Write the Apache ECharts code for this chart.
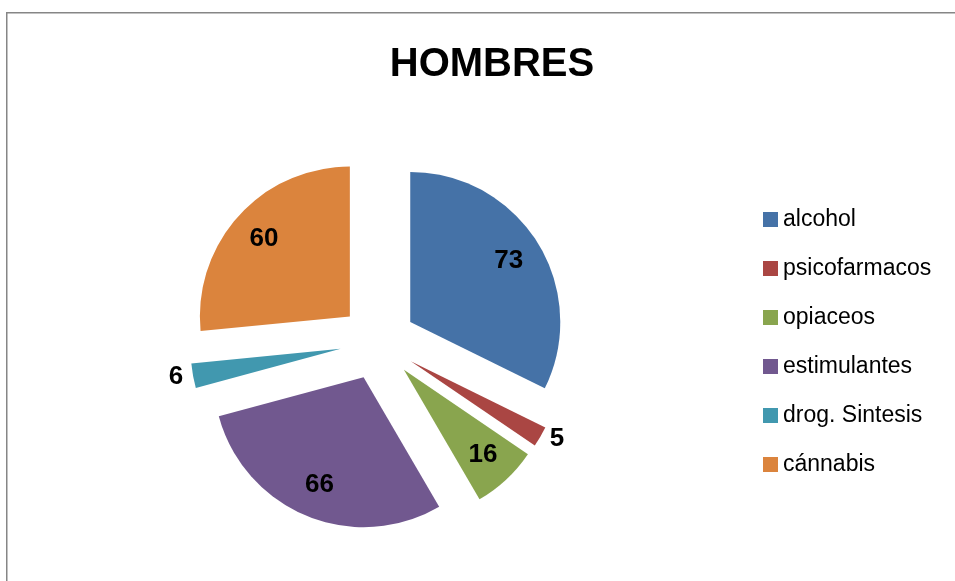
<!DOCTYPE html>
<html>
<head>
<meta charset="utf-8">
<script src="https://cdn.jsdelivr.net/npm/echarts@6/dist/echarts.min.js"></script>
<style>
  html, body { margin: 0; padding: 0; background: #fff; }
  #chart { width: 955px; height: 581px; }
</style>
</head>
<body>
<div id="chart"></div>
<script>
// 数据
var categories = ['alcohol', 'psicofarmacos', 'opiaceos', 'estimulantes', 'drog. Sintesis', 'cánnabis']
var values = [73, 5, 16, 66, 6, 60]
var colors = ['#4572A7', '#AA4643', '#89A54E', '#71588F', '#4198AF', '#DB843D']
// 小扇区标签放在外面
var outsideLabel = [false, true, false, false, true, false]

function hombresChart () {
  var myChart = echarts.init(document.getElementById('chart'))
  var labelFont = {
    formatter: '{c}',
    color: '#000',
    fontSize: 26,
    fontWeight: 'bold',
    fontFamily: 'Liberation Sans'
  }
  var mainData = categories.map(function (name, i) {
    return {
      name: name,
      value: values[i],
      selected: true,
      itemStyle: { color: colors[i] },
      label: Object.assign({ show: outsideLabel[i], position: 'outside', distanceToLabelLine: 5 }, labelFont),
      labelLine: { show: false, length: 5, length2: 0 }
    }
  })
  // 内部标签用透明的大饼图，标签落在 0.75 半径处
  var labelData = categories.map(function (name, i) {
    return {
      name: name,
      value: values[i],
      selected: true,
      itemStyle: { color: 'rgba(0,0,0,0)' },
      label: Object.assign({ show: !outsideLabel[i], position: 'inside' }, labelFont)
    }
  })
  var option = {
    animation: false,
    title: {
      text: 'HOMBRES',
      left: 487,
      top: 40,
      textAlign: 'center',
      textStyle: {
        color: '#000',
        fontSize: 40,
        fontWeight: 'bold',
        fontFamily: 'Liberation Sans'
      }
    },
    legend: {
      orient: 'vertical',
      left: 763,
      top: 208,
      padding: 0,
      itemWidth: 15,
      itemHeight: 15,
      itemGap: 26,
      icon: 'rect',
      selectedMode: false,
      data: categories,
      textStyle: {
        color: '#000',
        fontSize: 23,
        lineHeight: 22,
        fontFamily: 'Liberation Sans'
      }
    },
    graphic: [
      {
        type: 'rect',
        shape: { x: 6.75, y: 12.75, width: 1200, height: 1200 },
        style: { fill: 'none', stroke: '#868686', lineWidth: 1.5 },
        silent: true
      }
    ],
    series: [
      {
        name: 'HOMBRES',
        type: 'pie',
        center: [378, 342],
        radius: [0, 150],
        startAngle: 90,
        clockwise: true,
        selectedMode: 'multiple',
        selectedOffset: 38,
        avoidLabelOverlap: false,
        emphasis: { disabled: true },
        data: mainData
      },
      {
        name: 'labels',
        type: 'pie',
        center: [378, 342],
        radius: [0, 226],
        startAngle: 90,
        clockwise: true,
        silent: true,
        selectedMode: 'multiple',
        selectedOffset: 38,
        avoidLabelOverlap: false,
        emphasis: { disabled: true },
        labelLine: { show: false },
        data: labelData
      }
    ]
  }
  myChart.setOption(option)
  window.addEventListener('resize', function () {
    myChart.resize()
  })
}

hombresChart()
</script>
</body>
</html>
